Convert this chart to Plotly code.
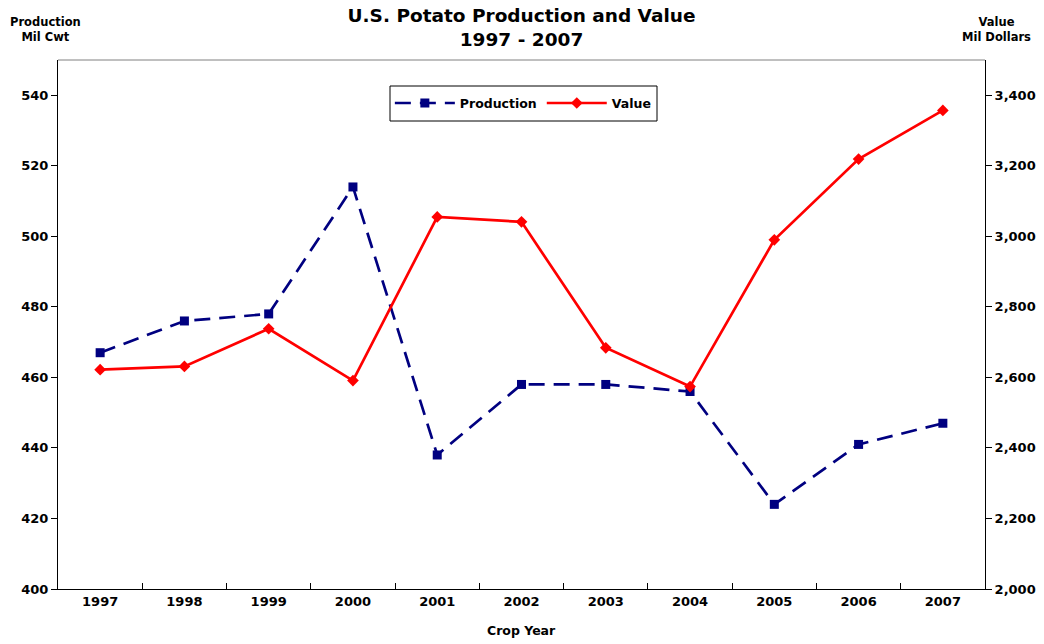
import plotly.graph_objects as go

years = ["1997", "1998", "1999", "2000", "2001", "2002", "2003", "2004", "2005", "2006", "2007"]
production = [467, 476, 478, 514, 438, 458, 458, 456, 424, 441, 447]
value = [2622, 2631, 2738, 2591, 3055, 3041, 2684, 2574, 2990, 3219, 3357]

FONT = "DejaVu Sans"

fig = go.Figure()
fig.add_trace(go.Scatter(
    x=years, y=production, name="<b>Production</b>", mode="lines+markers",
    line=dict(color="#000080", width=2.7, dash="16px,9px"),
    marker=dict(symbol="square", size=9, color="#000080"),
    yaxis="y"))
fig.add_trace(go.Scatter(
    x=years, y=value, name="<b>Value</b>", mode="lines+markers",
    line=dict(color="#ff0000", width=2.7),
    marker=dict(symbol="diamond", size=9, color="#ff0000"),
    yaxis="y2"))

fig.update_layout(
    width=1044, height=644,
    margin=dict(l=58, r=59, t=60, b=55, autoexpand=False),
    paper_bgcolor="white", plot_bgcolor="white",
    font=dict(family=FONT, color="black", size=13),
    title=dict(text="<b>U.S. Potato Production and Value<br>1997 - 2007</b>",
               x=0.5, xanchor="center", xref="paper", y=0.966, yanchor="middle",
               yref="container", automargin=False,
               font=dict(family=FONT, size=18.5, color="black")),
    xaxis=dict(type="category", range=[-0.5, len(years) - 0.5],
               tickson="boundaries", ticks="inside", ticklen=6,
               tickcolor="black", showline=True, linecolor="black", linewidth=1,
               showgrid=False, zeroline=False, automargin=False,
               tickfont=dict(family=FONT, size=13, weight="bold")),
    yaxis=dict(range=[400, 550], dtick=20, tick0=400, ticks="outside", ticklen=6,
               tickcolor="black", showline=True, linecolor="black", linewidth=1,
               showgrid=False, zeroline=False, automargin=False,
               tickfont=dict(family=FONT, size=13, weight="bold")),
    yaxis2=dict(range=[2000, 3500], dtick=200, tick0=2000, overlaying="y", side="right",
                ticks="outside", ticklen=6, tickcolor="black", showline=True,
                linecolor="black", linewidth=1, showgrid=False, zeroline=False,
                automargin=False, tickformat=",",
                tickfont=dict(family=FONT, size=13, weight="bold")),
    legend=dict(orientation="h", x=0.502, xanchor="center", y=0.918, yanchor="middle",
                borderwidth=0, bgcolor="rgba(0,0,0,0)",
                font=dict(family=FONT, size=12.5), itemwidth=60,
                tracegroupgap=0),
    showlegend=True,
)

# plot frame top edge (grey) and legend box
fig.add_shape(type="line", xref="paper", yref="paper", x0=0, x1=1, y0=1, y1=1,
              line=dict(color="#808080", width=1))
fig.add_shape(type="rect", xref="paper", yref="paper",
              x0=(390 - 58) / 927, x1=(657 - 58) / 927,
              y0=(589 - 121) / 529, y1=(589 - 86) / 529,
              line=dict(color="black", width=1), fillcolor="white", layer="above")

fig.add_annotation(text="<b>Production<br>Mil Cwt</b>", xref="paper", yref="paper",
                   x=-0.014, y=1.057, xanchor="center", yanchor="middle", showarrow=False,
                   font=dict(family=FONT, size=11.5))
fig.add_annotation(text="<b>Value<br>Mil Dollars</b>", xref="paper", yref="paper",
                   x=1.012, y=1.057, xanchor="center", yanchor="middle", showarrow=False,
                   font=dict(family=FONT, size=11.5))
fig.add_annotation(text="<b>Crop Year</b>", xref="paper", yref="paper",
                   x=0.5, y=-0.078, xanchor="center", yanchor="middle", showarrow=False,
                   font=dict(family=FONT, size=12.5))

fig.write_html("out.html", config={"displayModeBar": False},
               post_script="document.body.style.margin='0';document.body.style.padding='0';")
